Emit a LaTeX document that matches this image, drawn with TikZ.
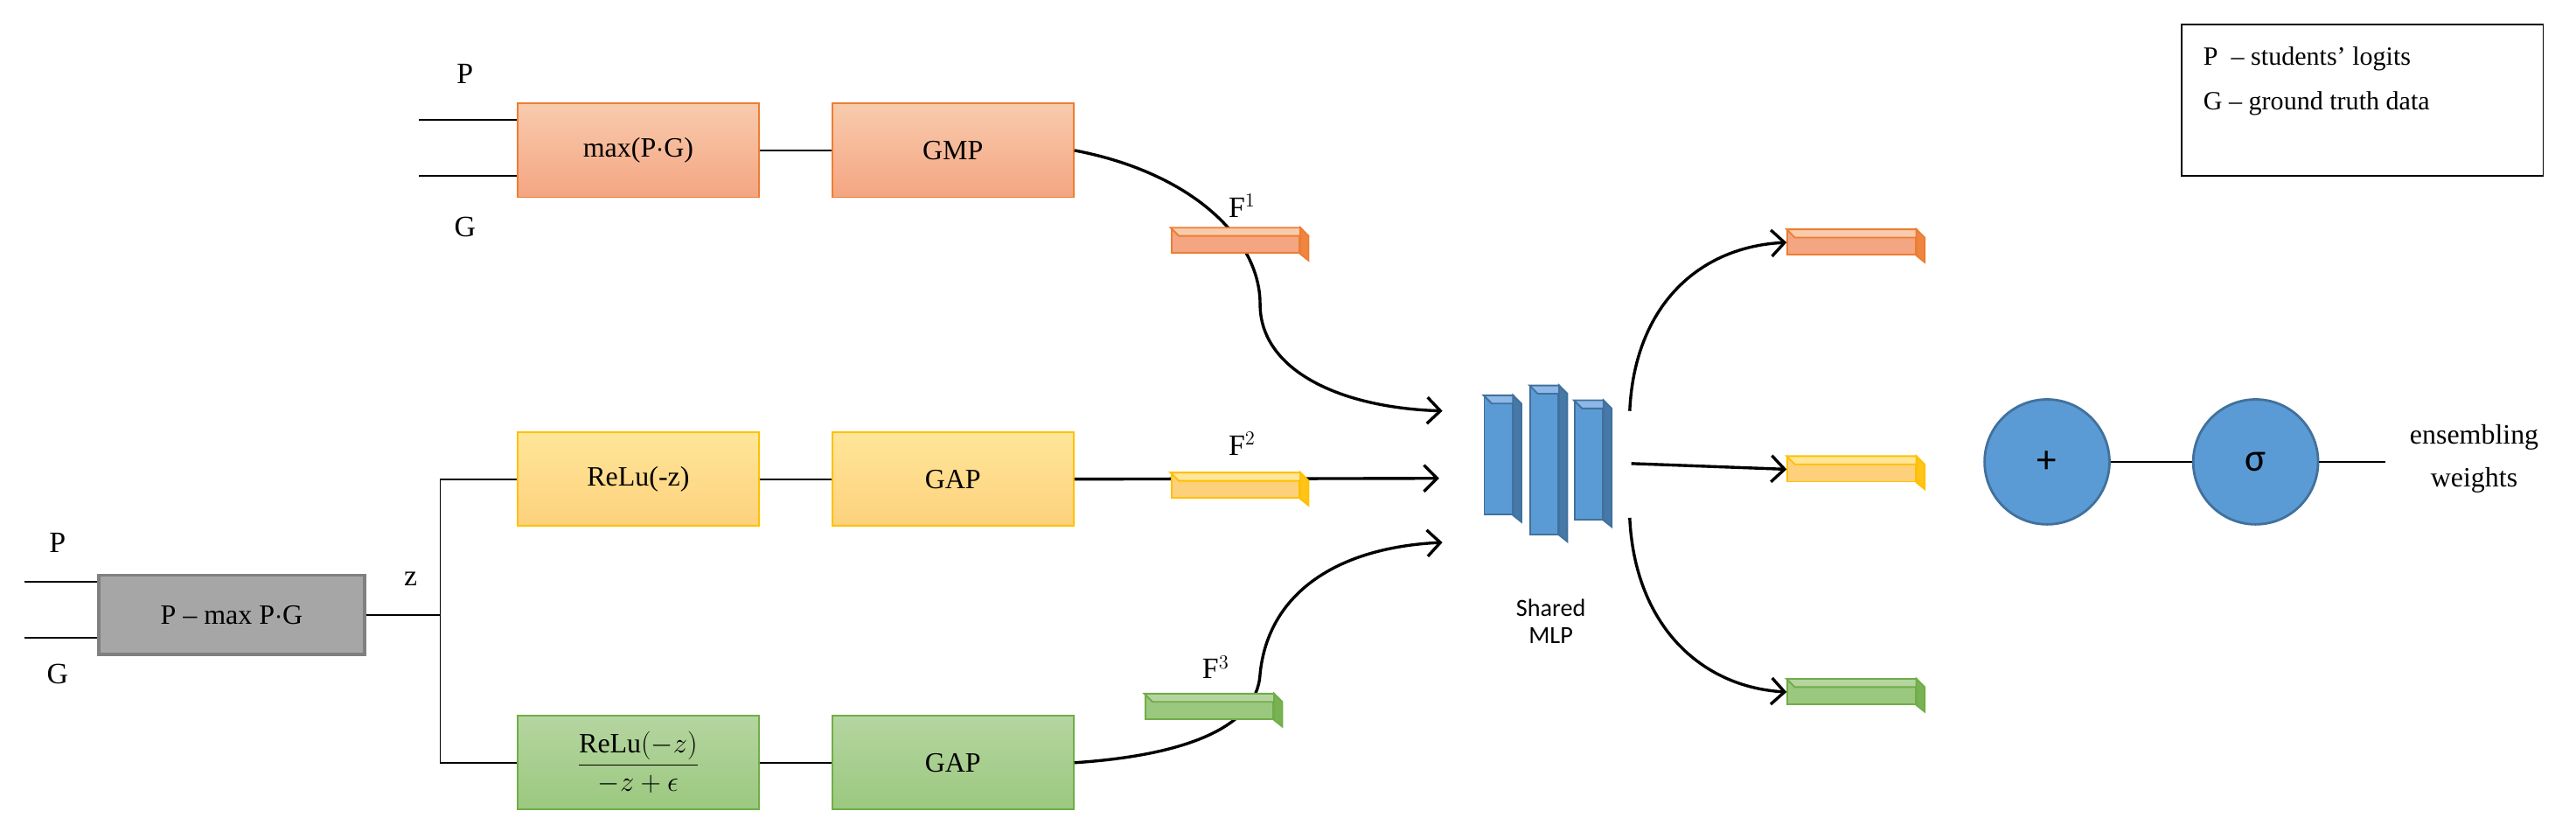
\documentclass[tikz,border=0pt]{standalone}
\usepackage{fontspec}
\setmainfont{Liberation Serif}
\newfontfamily\sansf{Carlito}
\usetikzlibrary{arrows.meta}
\definecolor{orF}{HTML}{F8CBAD}\definecolor{orB}{HTML}{F4A582}\definecolor{orL}{HTML}{ED7D31}
\definecolor{yeF}{HTML}{FFE699}\definecolor{yeB}{HTML}{FDD17C}\definecolor{yeL}{HTML}{FFC000}
\definecolor{grF}{HTML}{B5D5A0}\definecolor{grB}{HTML}{9BC87F}\definecolor{grL}{HTML}{70AD47}
\definecolor{blF}{HTML}{5B9BD5}\definecolor{blL}{HTML}{41719C}\definecolor{blT}{HTML}{8DB8E8}
\tikzset{
 box/.style={draw=#1L,line width=1pt,top color=#1F,bottom color=#1B,minimum width=147pt,minimum height=57pt,inner sep=0pt,font=\fontsize{17}{20}\selectfont},
 lbl/.style={font=\fontsize{18}{20}\selectfont,inner sep=0pt},
 thin/.style={line width=0.9pt},
 curve/.style={line width=1.8pt,-{Straight Barb[length=8pt,width=16pt,line width=1.8pt]}},
}
\newcommand\mycuboid[9]{%
 \node[draw=#7,fill=#6,line width=1pt,minimum width=#4pt,minimum height=#5pt,inner sep=0pt] (#1) at (#2,#3) {};
 \filldraw[draw=#7,fill=#8,line width=1pt] (#1.north west) -- ++(#9pt,-#9pt) -- ++(#4pt,0) -- (#1.north east) -- cycle;
 \filldraw[draw=#7,fill=#7!80!#6,line width=1pt] (#1.north east) -- ++(#9pt,-#9pt) -- ++(0,-#5pt) -- (#1.south east) -- cycle;
}
\begin{document}
\begin{tikzpicture}[x=1pt,y=-1pt]
\useasboundingbox (0,0) rectangle (1568,506);
\node[draw,line width=1pt,minimum width=220pt,minimum height=92pt] (leg) at (1438,61) {};
\node[lbl,anchor=west,font=\fontsize{16}{18}\selectfont] (l1) at (1341,36) {P\enspace– students’ logits};
\node[lbl,anchor=west,font=\fontsize{16}{18}\selectfont] (l2) at (1341,63) {G – ground truth data};
\node[box=or] (max) at (388.5,91.5) {max(P$\cdot$G)};
\node[box=or] (gmp) at (580,91.5) {GMP};
\node[lbl] (tP) at (283,45) {P};
\node[lbl] (tG) at (283,138) {G};
\coordinate (tp0) at (255,73); \coordinate (tg0) at (255,107);
\draw[thin] (tp0) -- (tp0 -| max.west);
\draw[thin] (tg0) -- (tg0 -| max.west);
\draw[thin] (max) -- (gmp);
\node[box=ye] (relu) at (388.5,291.5) {ReLu(-z)};
\node[box=ye] (gap2) at (580,291.5) {GAP};
\draw[thin] (relu) -- (gap2);
\node[box=gr] (frac) at (388.5,464) {$\displaystyle\frac{\mathrm{ReLu}(-z)}{-z+\epsilon}$};
\node[box=gr] (gap3) at (580,464) {GAP};
\draw[thin] (frac) -- (gap3);
\node[draw=gray!100!black,line width=2pt,fill=black!35,minimum width=162pt,minimum height=48pt,inner sep=0pt,font=\fontsize{17}{20}\selectfont] (pm) at (141,374) {P – max P$\cdot$G};
\node[lbl] (bP) at (35,330) {P};
\node[lbl] (bG) at (35,410) {G};
\coordinate (bp0) at (15,354); \coordinate (bg0) at (15,388);
\draw[thin] (bp0) -- (bp0 -| pm.west);
\draw[thin] (bg0) -- (bg0 -| pm.west);
\node[lbl] (z) at (250,352) {z};
\coordinate (split) at (268,374);
\draw[thin] (pm.east) -- (split);
\draw[thin] (relu.west) -| (split) |- (frac.west);
\coordinate (a1) at (878,250); \coordinate (a2) at (876,291); \coordinate (a3) at (878,330);
\draw[curve] (gmp.east) .. controls (725,105) and (767,145) .. (767,185) .. controls (767,225) and (815,248) .. (a1);
\draw[curve] (gap2.east) -- (a2);
\draw[curve] (gap3.east) .. controls (715,460) and (765,445) .. (767,410) .. controls (772,360) and (815,333) .. (a3);
\mycuboid{f1}{752}{146.5}{78}{15}{orB}{orL}{orF}{5}
\mycuboid{f2}{752}{295.5}{78}{15}{yeB}{yeL}{yeF}{5}
\mycuboid{f3}{736}{430}{78}{15}{grB}{grL}{grF}{5}
\node[lbl] (F1) at (756,125) {F$^1$};
\node[lbl] (F2) at (756,270) {F$^2$};
\node[lbl] (F3) at (740,406) {F$^3$};
\mycuboid{m1}{912}{277}{17}{72}{blF}{blL}{blT}{5}
\mycuboid{m2}{940}{280}{17}{90}{blF}{blL}{blT}{5}
\mycuboid{m3}{967}{280}{17}{72}{blF}{blL}{blT}{5}
\node[font=\sansf\fontsize{15}{17}\selectfont,align=center] (mlp) at (944,378) {Shared\\MLP};
\mycuboid{o1}{1127}{147.5}{78}{15}{orB}{orL}{orF}{5}
\mycuboid{o2}{1127}{285.5}{78}{15}{yeB}{yeL}{yeF}{5}
\mycuboid{o3}{1127}{421}{78}{15}{grB}{grL}{grF}{5}
\coordinate (s1) at (992,250); \coordinate (s2) at (993,282); \coordinate (s3) at (992,315);
\draw[curve] (s1) .. controls (995,185) and (1035,150) .. (o1.west);
\draw[curve] (s2) -- (o2.west);
\draw[curve] (s3) .. controls (995,380) and (1035,418) .. (o3.west);
\node[circle,draw=blL,fill=blF,line width=1.5pt,minimum size=76pt,font=\sansf\fontsize{24}{24}\selectfont] (plus) at (1246,281) {+};
\node[circle,draw=blL,fill=blF,line width=1.5pt,minimum size=76pt,font=\sansf\fontsize{24}{24}\selectfont] (sig) at (1373,281) {σ};
\draw[thin] (plus) -- (sig);
\coordinate (ew) at (1452,281);
\draw[thin] (sig.east) -- (ew);
\node[lbl,align=center,font=\fontsize{17}{26}\selectfont] (ens) at (1506,279) {ensembling\\weights};
\end{tikzpicture}
\end{document}
